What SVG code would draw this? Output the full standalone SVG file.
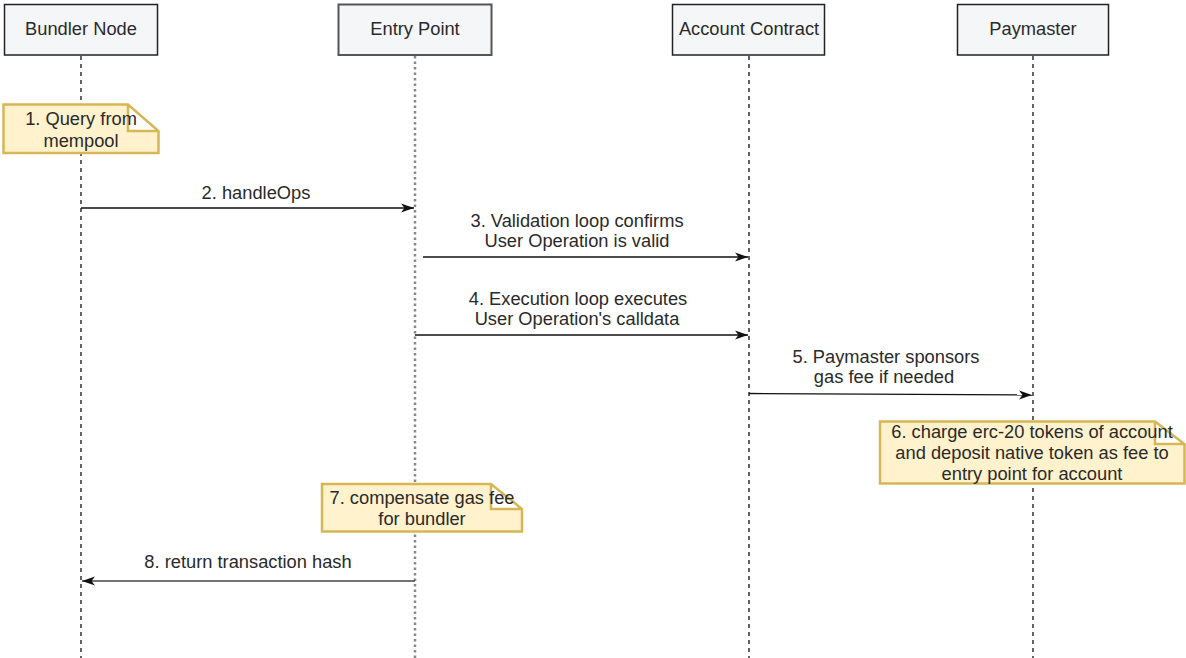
<svg xmlns="http://www.w3.org/2000/svg" width="1186" height="658" viewBox="0 0 1186 658">
<style>
text{font-family:"Liberation Sans",Arial,sans-serif;font-size:18.3px;fill:#2a2a2a;text-anchor:middle}
.box{fill:#f5f6f8;stroke:#222;stroke-width:1.5}
.box2{fill:#f5f6f8;stroke:#555;stroke-width:2}
.life{stroke:#111;stroke-width:1.3;stroke-dasharray:4 4;fill:none}
.lifeg{stroke:#888;stroke-width:2.5;stroke-dasharray:2.5 3;fill:none}
.note{fill:#fff2cc;stroke:#d6b656;stroke-width:2.5;stroke-linejoin:miter}
.msg{stroke:#111;stroke-width:1.3;fill:none;marker-end:url(#ah)}
</style>
<defs>
<marker id="ah" markerWidth="14" markerHeight="10" refX="13" refY="5" orient="auto" markerUnits="userSpaceOnUse">
<path d="M0,0.5 L13,5 L0,9.5 L3.5,5 Z" fill="#111"/>
</marker>
</defs>
<rect width="1186" height="658" fill="#fff"/>
<g id="lifelines">
<line class="life" x1="81" y1="56" x2="81" y2="658"/>
<line class="lifeg" x1="415" y1="56" x2="415" y2="658"/>
<line class="life" x1="749" y1="56" x2="749" y2="658"/>
<line class="life" x1="1033" y1="56" x2="1033" y2="658"/>
</g>
<g id="bundler">
<rect class="box" x="4.5" y="4.5" width="153" height="50.5"/>
<text x="81" y="35">Bundler Node</text>
</g>
<g id="entrypoint">
<rect class="box2" x="338.5" y="4.5" width="153" height="50.5"/>
<text x="415" y="35">Entry Point</text>
</g>
<g id="account">
<rect class="box" x="672.5" y="4.5" width="152" height="50.5"/>
<text x="749" y="35">Account Contract</text>
</g>
<g id="paymaster">
<rect class="box" x="957.5" y="4.5" width="151" height="50.5"/>
<text x="1033" y="35">Paymaster</text>
</g>
<g id="note1">
<path class="note" d="M3.5,104.5 H128 L158.5,131 V153 H3.5 Z M128,104.5 V131 H158.5"/>
<text x="81" y="125">1. Query from</text>
<text x="81" y="147">mempool</text>
</g>
<g id="note6">
<path class="note" d="M880,421.5 H1155 L1184.5,444 V483.5 H880 Z M1155,421.5 V444 H1184.5"/>
<text x="1032" y="438">6. charge erc-20 tokens of account</text>
<text x="1032" y="459">and deposit native token as fee to</text>
<text x="1032" y="480">entry point for account</text>
</g>
<g id="note7">
<path class="note" d="M322,484 H491 L522,509 V531.5 H322 Z M491,484 V509 H522"/>
<text x="422" y="504">7. compensate gas fee</text>
<text x="422" y="525">for bundler</text>
</g>
<g id="connectors">
<line class="msg" x1="81" y1="208" x2="414" y2="208"/>
<text x="256" y="199">2. handleOps</text>
<line class="msg" x1="423" y1="257" x2="748" y2="257"/>
<text x="577" y="227">3. Validation loop confirms</text>
<text x="577" y="247">User Operation is valid</text>
<line class="msg" x1="415" y1="335" x2="748" y2="335"/>
<text x="578" y="305">4. Execution loop executes</text>
<text x="577" y="325">User Operation's calldata</text>
<line class="msg" x1="749" y1="393.5" x2="1032" y2="395"/>
<text x="886" y="363">5. Paymaster sponsors</text>
<text x="884" y="383">gas fee if needed</text>
<line class="msg" x1="415" y1="581" x2="82" y2="581" style="stroke:#444"/>
<text x="248" y="568">8. return transaction hash</text>
</g>
</svg>
